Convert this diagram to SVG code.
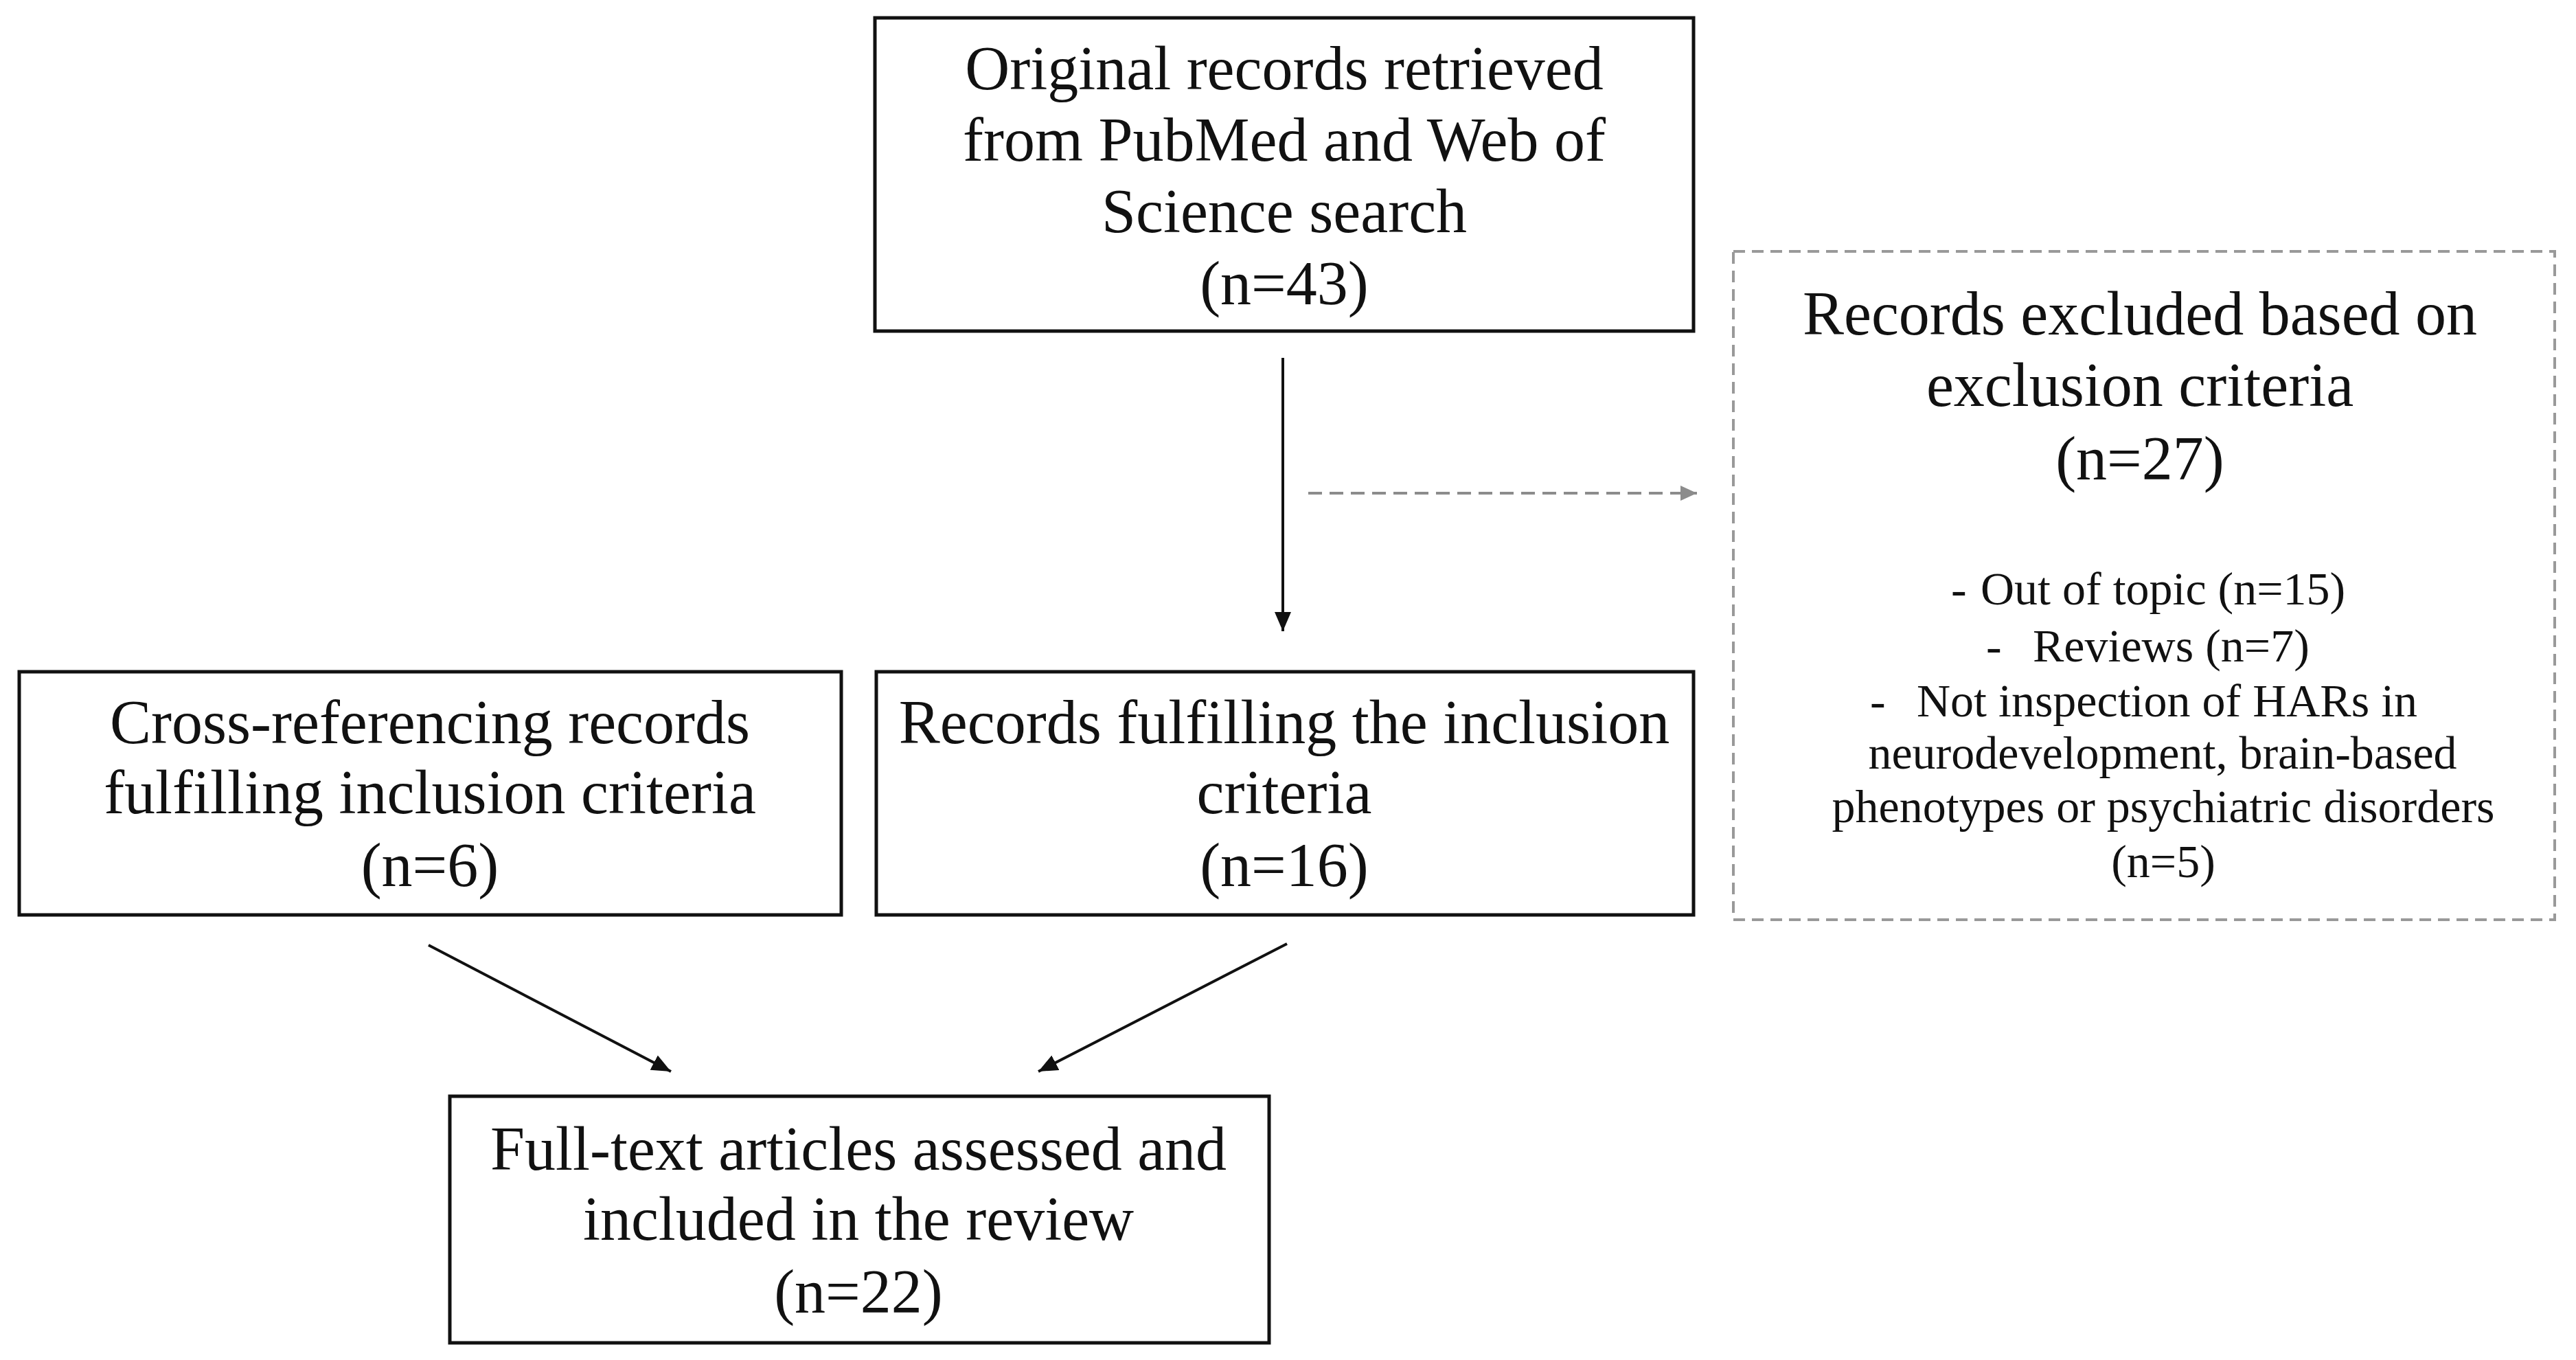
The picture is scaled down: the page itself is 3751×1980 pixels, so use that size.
<svg xmlns="http://www.w3.org/2000/svg" width="3751" height="1980" viewBox="0 0 3751 1980">
<style>
.box{fill:#fff;stroke:#111;stroke-width:5}
.dbox{fill:#fff;stroke:#999;stroke-width:4;stroke-dasharray:17 10}
.t{font-family:"Liberation Serif","Times New Roman",serif;font-size:90px;fill:#111;text-anchor:middle}
.s{font-family:"Liberation Serif","Times New Roman",serif;font-size:68px;fill:#111}
.sm{text-anchor:middle}
.c{stroke:#111;stroke-width:4;fill:none}
.cd{stroke:#8c8c8c;stroke-width:4;fill:none;stroke-dasharray:20 11}
</style>
<defs>
<marker id="ah" markerUnits="userSpaceOnUse" markerWidth="30" markerHeight="24" refX="28" refY="12" orient="auto">
<path d="M0,0 L28,12 L0,24 Z" fill="#111"/>
</marker>
<marker id="ahg" markerUnits="userSpaceOnUse" markerWidth="26" markerHeight="24" refX="24" refY="12" orient="auto">
<path d="M0,1 L24,12 L0,23 Z" fill="#8c8c8c"/>
</marker>
</defs>
<rect width="3751" height="1980" fill="#fff"/>
<g id="connectors">
<line class="c" x1="1868" y1="521" x2="1868" y2="919" marker-end="url(#ah)"/>
<line class="cd" x1="1905" y1="718" x2="2471" y2="718" marker-end="url(#ahg)"/>
<line class="c" x1="624" y1="1376" x2="977" y2="1560" marker-end="url(#ah)"/>
<line class="c" x1="1874" y1="1374" x2="1512" y2="1560" marker-end="url(#ah)"/>
</g>
<g id="n-original">
<rect class="box" x="1274" y="26" width="1192" height="456"/>
<text class="t" x="1870" y="130">Original records retrieved</text>
<text class="t" x="1870" y="234">from PubMed and Web of</text>
<text class="t" x="1870" y="338">Science search</text>
<text class="t" x="1870" y="443">(n=43)</text>
</g>
<g id="n-excluded">
<rect class="dbox" x="2524" y="366" width="1196" height="973"/>
<text class="t" x="3116" y="487">Records excluded based on</text>
<text class="t" x="3116" y="591">exclusion criteria</text>
<text class="t" x="3116" y="698">(n=27)</text>
<text class="s" x="2841" y="880">-</text>
<text class="s" x="2884" y="880">Out of topic (n=15)</text>
<text class="s" x="2892" y="963">-</text>
<text class="s" x="2960" y="963">Reviews (n=7)</text>
<text class="s" x="2723" y="1043">-</text>
<text class="s" x="2791" y="1043">Not inspection of HARs in</text>
<text class="s sm" x="3149" y="1119">neurodevelopment, brain-based</text>
<text class="s sm" x="3150" y="1197">phenotypes or psychiatric disorders</text>
<text class="s sm" x="3150" y="1277">(n=5)</text>
</g>
<g id="n-crossref">
<rect class="box" x="28" y="978" width="1197" height="354"/>
<text class="t" x="626" y="1082">Cross-referencing records</text>
<text class="t" x="626" y="1184">fulfilling inclusion criteria</text>
<text class="t" x="626" y="1290">(n=6)</text>
</g>
<g id="n-fulfilling">
<rect class="box" x="1276" y="978" width="1190" height="354"/>
<text class="t" x="1870" y="1082">Records fulfilling the inclusion</text>
<text class="t" x="1870" y="1184">criteria</text>
<text class="t" x="1870" y="1290">(n=16)</text>
</g>
<g id="n-fulltext">
<rect class="box" x="655" y="1596" width="1193" height="359"/>
<text class="t" x="1250" y="1703">Full-text articles assessed and</text>
<text class="t" x="1250" y="1805">included in the review</text>
<text class="t" x="1250" y="1911">(n=22)</text>
</g>
</svg>
